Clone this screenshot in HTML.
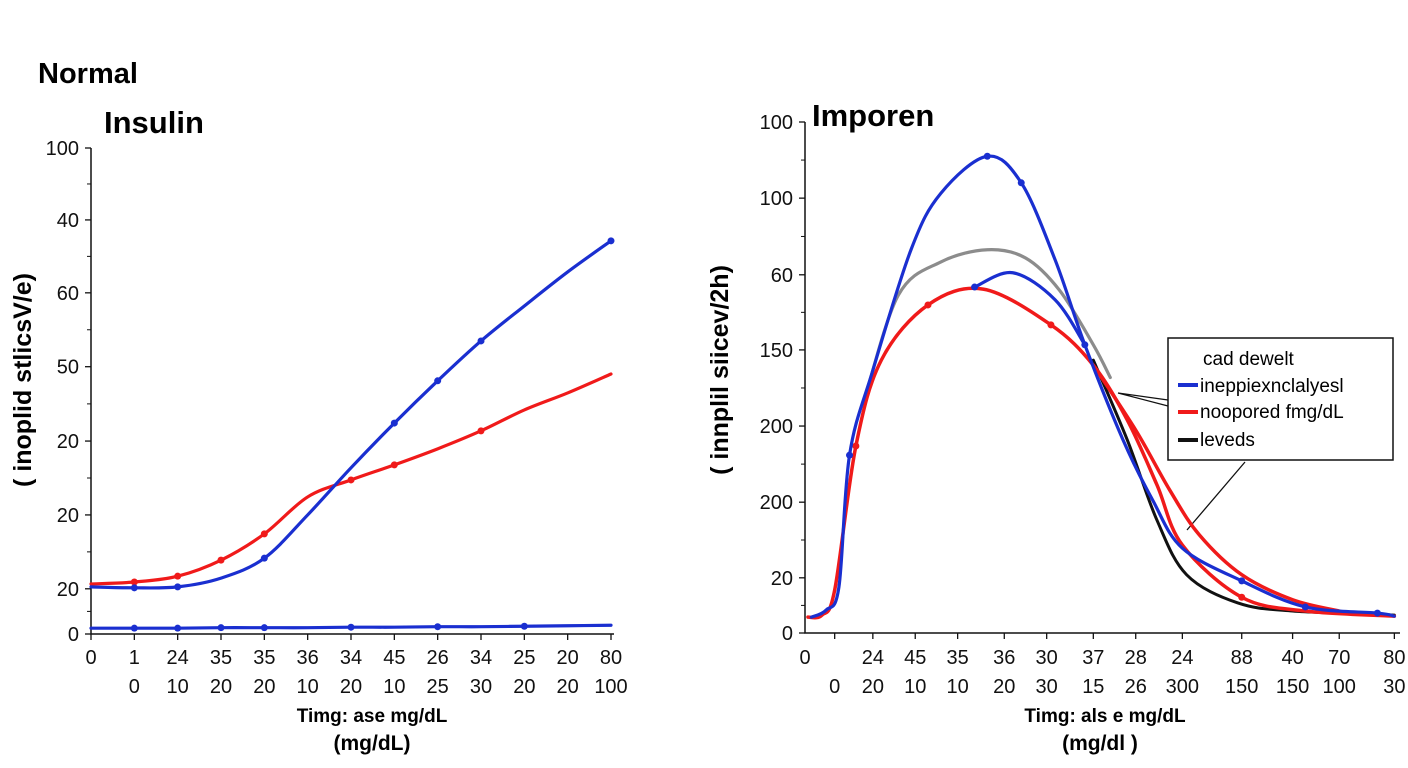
<!DOCTYPE html>
<html><head><meta charset="utf-8"><style>
body{margin:0;background:#fff;}
svg{display:block;font-family:"Liberation Sans",Arial,sans-serif;}
</style></head><body>
<svg id="c" width="1408" height="768" viewBox="0 0 1408 768">
<text x="38" y="83" font-size="29" font-weight="bold">Normal</text>
<text x="104" y="133" font-size="31" font-weight="bold">Insulin</text>
<text x="812" y="126" font-size="31" font-weight="bold">Imporen</text>
<text transform="translate(31,380) rotate(-90)" text-anchor="middle" font-size="25" font-weight="bold">( inoplid stlicsV/e)</text>
<text transform="translate(728,370) rotate(-90)" text-anchor="middle" font-size="25" font-weight="bold">( innplil siicev/2h)</text>
<text x="372" y="722" text-anchor="middle" font-size="19" font-weight="bold">Timg: ase mg/dL</text>
<text x="372" y="750" text-anchor="middle" font-size="21" font-weight="bold">(mg/dL)</text>
<text x="1105" y="722" text-anchor="middle" font-size="19" font-weight="bold">Timg: als e mg/dL</text>
<text x="1100" y="750" text-anchor="middle" font-size="21" font-weight="bold">(mg/dl )</text>
<g>
<rect x="1168" y="338" width="225" height="122" fill="#fff" stroke="#111" stroke-width="1.5"/>
<text x="1203" y="365" font-size="19">cad dewelt</text>
<line x1="1178" y1="385" x2="1198" y2="385" stroke="#1a2fd0" stroke-width="4"/>
<text x="1200" y="392" font-size="19">ineppiexnclalyesl</text>
<line x1="1178" y1="412" x2="1198" y2="412" stroke="#f01a1a" stroke-width="4"/>
<text x="1200" y="418" font-size="19">noopored fmg/dL</text>
<line x1="1178" y1="440" x2="1198" y2="440" stroke="#111" stroke-width="4"/>
<text x="1200" y="446" font-size="19">leveds</text>
<path d="M1118 393 L1168 400 M1118 393 L1168 406 M1245 462 L1187 530" stroke="#111" stroke-width="1.3" fill="none"/>
</g>
</svg>
<script>
// ---- Left chart data ----
const leftCats = [0,1,2,3,4,5,6,7,8,9,10,11,12];
const leftRow1 = ['0','1','24','35','35','36','34','45','26','34','25','20','80'];
const leftRow2 = ['','0','10','20','20','10','20','10','25','30','20','20','100'];
const leftYTickVals = [0,9.3,24.5,39.7,55,70.2,85.2,100];
const leftYTickLabels = ['0','20','20','20','50','60','40','100'];
const leftBlue = [9.7,9.5,9.7,11.5,15.6,24.5,34.2,43.4,52.1,60.3,67.5,74.5,80.9];
const leftRed = [10.3,10.7,11.9,15.2,20.6,28.2,31.7,34.8,38.1,41.8,46.1,49.6,53.5];
const leftBase = [1.2,1.2,1.2,1.3,1.3,1.3,1.4,1.4,1.5,1.5,1.6,1.7,1.8];
const leftBlueMarks = [1,2,4,7,8,9,12];
const leftRedMarks = [1,2,3,4,6,7,9];
const leftBaseMarks = [1,2,3,4,6,8,10];
// ---- Right chart data ----
const rightTickT = [0,0.7,1.6,2.6,3.6,4.7,5.7,6.8,7.8,8.9,10.3,11.5,12.6,13.9];
const rightRow1 = ['0','','24','45','35','36','30','37','28','24','88','40','70','80'];
const rightRow2 = ['','0','20','10','10','20','30','15','26','300','150','150','100','30'];
const rightYTickVals = [0,10.8,25.6,40.5,55.4,70.1,85.1,100];
const rightYTickLabels = ['0','20','200','200','150','60','100','100'];
const blueTallT = [0.15,0.5,0.8,1.05,1.6,2.5,3.2,4.3,5.1,5.9,6.6,7.5,8.2,8.9,10.3,11.8,13.5,13.9];
const blueTallV = [3.1,4.5,9,34.8,51.4,75,86,93.3,88.1,73,56.4,37.8,26,16.6,10.2,5.1,3.9,3.3];
const blueTallMarks = [3,7,8,10,14,15,16];
const grayT = [1.4,2.2,3.2,4.3,5.2,6.0,6.8,7.2];
const grayV = [45.6,66.1,72.6,75,73.4,67.1,56.4,50];
const blueMidT = [4.0,4.9,5.9,6.6];
const blueMidV = [67.7,70.5,65.2,56.4];
const redT = [0.07,0.4,0.7,1.2,1.8,2.9,4.2,5.8,6.8,7.6,8.3,8.9,10.3,11.8,13.9];
const redV = [3.1,3.5,8.4,36.6,53.4,64.2,67.3,60.3,52.4,41.7,29,17.2,7,4.3,3.3];
const redMarks = [3,5,7,12];
const redTailT = [6.8,7.8,8.6,9.3,10.3,11.5,12.6];
const redTailV = [52.4,39.7,28,19.2,11.4,6.5,4.3];
const blackT = [6.8,7.6,8.3,9.0,10.2,11.5,13.9];
const blackV = [53.4,37.8,22.1,11.4,5.9,4.3,3.5];

const svg = document.getElementById('c');
const NS = 'http://www.w3.org/2000/svg';
function mk(tag, attrs){const e=document.createElementNS(NS,tag);for(const k in attrs)e.setAttribute(k,attrs[k]);svg.appendChild(e);return e;}
function smooth(pts){
  let d='M'+pts[0][0]+' '+pts[0][1];
  for(let i=0;i<pts.length-1;i++){
    const p0=pts[Math.max(0,i-1)],p1=pts[i],p2=pts[i+1],p3=pts[Math.min(pts.length-1,i+2)];
    const c1=[p1[0]+(p2[0]-p0[0])/6,p1[1]+(p2[1]-p0[1])/6];
    const c2=[p2[0]-(p3[0]-p1[0])/6,p2[1]-(p3[1]-p1[1])/6];
    d+=' C'+c1[0]+' '+c1[1]+' '+c2[0]+' '+c2[1]+' '+p2[0]+' '+p2[1];
  }
  return d;
}
const lx = i => 91 + i*(611-91)/12;
const ly = v => 634 - v*(634-148)/100;
const rx = t => 805 + t*42.4;
const ry = v => 633 - v*(633-122)/100;

function axes(x0,x1,yTop,yBot,tickVals,tickLabels,yf,side){
  let e=mk('path',{d:`M${x0} ${yTop} L${x0} ${yBot} L${x1} ${yBot}`,stroke:'#111','stroke-width':1.5,fill:'none'});
  
  
  tickVals.forEach((v,i)=>{
    const y=yf(v);
    mk('line',{x1:x0-6,y1:y,x2:x0,y2:y,stroke:'#111','stroke-width':1.3});
    if(i<tickVals.length-1){const m=yf((v+tickVals[i+1])/2);mk('line',{x1:x0-4,y1:m,x2:x0,y2:m,stroke:'#111','stroke-width':1});}
    const t=mk('text',{x:x0-12,y:y+7,'text-anchor':'end','font-size':20,fill:'#111'});
    t.textContent=tickLabels[i];
    
    
  });
}
axes(91,614,148,634,leftYTickVals,leftYTickLabels,ly,'left');
axes(805,1400,122,633,rightYTickVals,rightYTickLabels,ry,'right');

leftCats.forEach((c,i)=>{
  const x=lx(c);
  mk('line',{x1:x,y1:634,x2:x,y2:640,stroke:'#111','stroke-width':1.3});
  const a=mk('text',{x:x,y:664,'text-anchor':'middle','font-size':20,fill:'#111'});a.textContent=leftRow1[i];
  
  
  const b=mk('text',{x:x,y:693,'text-anchor':'middle','font-size':20,fill:'#111'});b.textContent=leftRow2[i];
  
  
});
rightTickT.forEach((t,i)=>{
  const x=rx(t);
  if(i>0) mk('line',{x1:x,y1:633,x2:x,y2:639,stroke:'#111','stroke-width':1.3});
  const a=mk('text',{x:x,y:664,'text-anchor':'middle','font-size':20,fill:'#111'});a.textContent=rightRow1[i];
  
  
  const b=mk('text',{x:x,y:693,'text-anchor':'middle','font-size':20,fill:'#111'});b.textContent=rightRow2[i];
  
  
});

function series(xs,vs,xf,yf,color,w,name,marks){
  const pts=xs.map((x,i)=>[xf(x),yf(vs[i])]);
  const p=mk('path',{d:smooth(pts),stroke:color,'stroke-width':w,fill:'none','stroke-linecap':'round'});
  
  
  (marks||[]).forEach(i=>{
    const c=mk('circle',{cx:pts[i][0],cy:pts[i][1],r:3.5,fill:color});
    
    
  });
}
series(leftCats,leftBase,lx,ly,'#1a2fd0',3.2,'left-baseline-series',leftBaseMarks);
series(leftCats,leftRed,lx,ly,'#f01a1a',3.2,'left-red-series',leftRedMarks);
series(leftCats,leftBlue,lx,ly,'#1a2fd0',3.2,'left-blue-series',leftBlueMarks);

series(grayT,grayV,rx,ry,'#8c8c8c',3.2,'right-gray-series',[]);
series(blackT,blackV,rx,ry,'#111',3,'right-black-series',[]);
series(redTailT,redTailV,rx,ry,'#f01a1a',3.5,'right-red-tail-series',[]);
series(redT,redV,rx,ry,'#f01a1a',3.5,'right-red-series',redMarks);
series(blueMidT,blueMidV,rx,ry,'#1a2fd0',3.2,'right-blue-mid-series',[0]);
series(blueTallT,blueTallV,rx,ry,'#1a2fd0',3.2,'right-blue-tall-series',blueTallMarks);
</script>
</body></html>
